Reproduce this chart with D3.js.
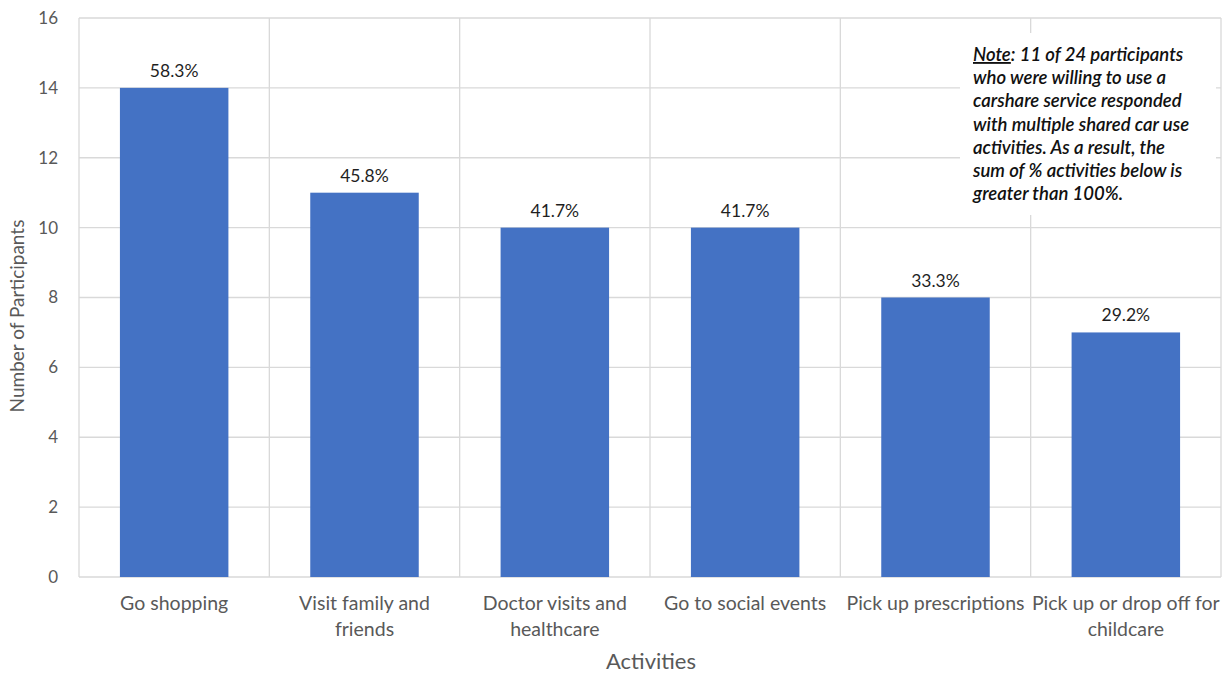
<!DOCTYPE html>
<html>
<head>
<meta charset="utf-8">
<script src="https://cdn.jsdelivr.net/npm/d3@7"></script>
<style>
  html, body { margin: 0; padding: 0; background: #fff; }
  svg { display: block; }
  text { font-family: Lato, "Open Sans", sans-serif; }
</style>
</head>
<body>
<svg id="chart" width="1231" height="685"></svg>
<script>
// Survey: shared car use activities
const categories = [
  ["Go shopping"],
  ["Visit family and", "friends"],
  ["Doctor visits and", "healthcare"],
  ["Go to social events"],
  ["Pick up prescriptions"],
  ["Pick up or drop off for", "childcare"]
];
const participants = [14, 11, 10, 10, 8, 7];
const percentLabels = ["58.3%", "45.8%", "41.7%", "41.7%", "33.3%", "29.2%"];
const yTicks = [0, 2, 4, 6, 8, 10, 12, 14, 16];
const noteLines = [
  "11 of 24 participants",
  "who were willing to use a",
  "carshare service responded",
  "with multiple shared car use",
  "activities. As a result, the",
  "sum of % activities below is",
  "greater than 100%."
];

const svg = d3.select("#chart");
const plot = { left: 79, right: 1221, top: 18, bottom: 577 };

const x = d3.scaleBand()
  .domain(d3.range(categories.length))
  .range([plot.left, plot.right])
  .paddingInner(0.43)
  .paddingOuter(0.215);

const y = d3.scaleLinear().domain([0, 16]).range([plot.bottom, plot.top]);

const grid = "#d9d9d9";
const step = (plot.right - plot.left) / categories.length;

// horizontal gridlines
svg.append("g").selectAll("line").data(yTicks).join("line")
  .attr("x1", plot.left).attr("x2", plot.right)
  .attr("y1", d => y(d)).attr("y2", d => y(d))
  .attr("stroke", grid).attr("stroke-width", 1.3);

// vertical category dividers
svg.append("g").selectAll("line").data(d3.range(categories.length + 1)).join("line")
  .attr("x1", i => plot.left + i * step).attr("x2", i => plot.left + i * step)
  .attr("y1", plot.top).attr("y2", plot.bottom)
  .attr("stroke", grid).attr("stroke-width", 1.3);

// note box (white, sits over the gridlines)
const note = svg.append("g");
note.append("rect")
  .attr("x", 960).attr("y", 33).attr("width", 256).attr("height", 182)
  .attr("fill", "#fff");
const noteText = note.append("text")
  .attr("font-style", "italic").attr("font-size", 18.5).attr("fill", "#111")
  .style("font-weight", 600);
noteLines.forEach((l, i) => {
  const t = noteText.append("tspan").attr("x", 973).attr("y", 61 + i * 23.2);
  if (i === 0) {
    t.append("tspan").attr("text-decoration", "underline").text("Note");
    t.append("tspan").text(": " + l);
  } else {
    t.text(l);
  }
});

// bars
svg.append("g").selectAll("rect").data(participants).join("rect")
  .attr("x", (d, i) => x(i))
  .attr("width", x.bandwidth())
  .attr("y", d => y(d))
  .attr("height", d => y(0) - y(d))
  .attr("fill", "#4472C4");

// value labels
svg.append("g").selectAll("text").data(participants).join("text")
  .attr("x", (d, i) => x(i) + x.bandwidth() / 2)
  .attr("y", d => y(d) - 11)
  .attr("text-anchor", "middle")
  .attr("font-size", 17.5).attr("fill", "#1f1f1f")
  .text((d, i) => percentLabels[i]);

// y axis tick labels
svg.append("g").selectAll("text").data(yTicks).join("text")
  .attr("x", 58).attr("y", d => y(d))
  .attr("dy", "0.35em").attr("text-anchor", "end")
  .attr("font-size", 17).attr("fill", "#595959")
  .text(d => d);

// category labels
const catG = svg.append("g");
categories.forEach((lines, i) => {
  const t = catG.append("text")
    .attr("text-anchor", "middle")
    .attr("font-size", 19.5).attr("fill", "#595959");
  lines.forEach((l, j) => {
    t.append("tspan")
      .attr("x", x(i) + x.bandwidth() / 2)
      .attr("y", 610 + j * 26)
      .text(l);
  });
});

// axis titles
svg.append("text")
  .attr("x", 651).attr("y", 669)
  .attr("text-anchor", "middle")
  .attr("font-size", 22).attr("fill", "#595959")
  .text("Activities");

svg.append("text")
  .attr("transform", "translate(24, 316) rotate(-90)")
  .attr("text-anchor", "middle")
  .attr("font-size", 19).attr("fill", "#595959")
  .text("Number of Participants");
</script>
</body>
</html>
